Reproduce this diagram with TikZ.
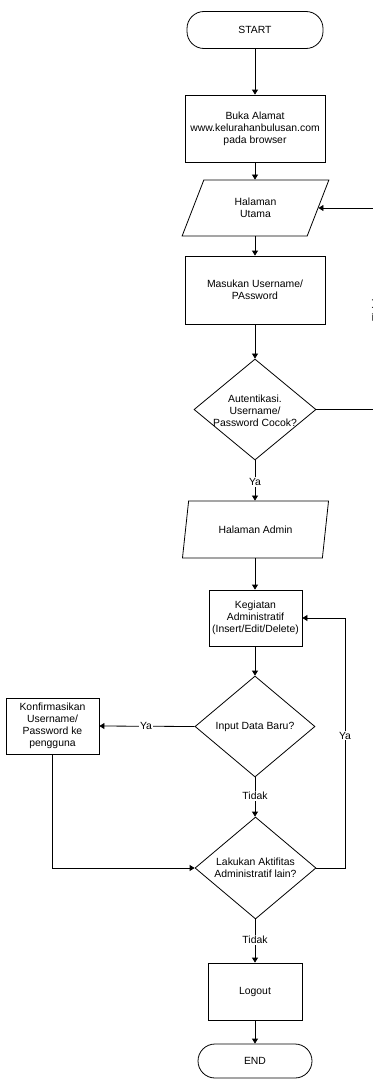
\documentclass[tikz,border=0pt]{standalone}
\usepackage{fontspec}
\setmainfont{Liberation Sans}
\usetikzlibrary{shapes.geometric,arrows.meta}
\begin{document}
\begin{tikzpicture}[x=1pt,y=-1pt,
  every node/.style={font=\fontsize{10.4}{12}\selectfont, align=center},
  box/.style={draw, rectangle, inner sep=0pt, line width=0.8pt},
  term/.style={draw, rectangle, rounded corners=17pt, inner sep=0pt, line width=0.8pt},
  io/.style={draw, trapezium, trapezium left angle=66, trapezium right angle=114,
    trapezium stretches=true, inner sep=0pt, minimum width=147pt, minimum height=56pt, line width=0.8pt},
  dec/.style={draw, diamond, inner sep=0pt, line width=0.8pt},
  flow/.style={line width=0.8pt, -{Triangle[length=5pt,width=6pt]}},
  plain/.style={line width=0.8pt},
  lbl/.style={fill=white, inner sep=1pt}
]
\useasboundingbox (0,0) rectangle (372,1081);

\node[term, minimum width=136pt, minimum height=37pt] (start) at (255,30) {START};
\node[box, minimum width=140pt, minimum height=67pt] (buka) at (255,128.5) {Buka Alamat\\www.kelurahanbulusan.com\\pada browser};
\node[io] (hu) at (255.5,208) {Halaman\\Utama};
\node[box, minimum width=140pt, minimum height=68pt] (masuk) at (255,290) {Masukan Username/\\PAssword};
\node[dec, minimum width=122pt, minimum height=101pt] (auth) at (255,409.5) {};
\node (authT) at (255,411) {Autentikasi.\\Username/\\Password Cocok?};
\node[io, minimum height=57pt] (admin) at (255.5,529.5) {Halaman Admin};
\node[box, minimum width=93pt, minimum height=56pt] (keg) at (255.5,618) {Kegiatan\\Administratif\\(Insert/Edit/Delete)};
\node[dec, minimum width=120pt, minimum height=101pt] (inp) at (255,726.5) {};
\node (inpT) at (255,726.5) {Input Data Baru?};
\node[box, minimum width=93pt, minimum height=56pt] (konf) at (52.5,726) {Konfirmasikan\\Username/\\Password ke\\pengguna};
\node[dec, minimum width=121pt, minimum height=102pt] (lak) at (255.5,868) {};
\node (lakT) at (255.5,868) {Lakukan Aktifitas\\Administratif lain?};
\node[box, minimum width=94pt, minimum height=57pt] (logout) at (255,991.5) {Logout};
\node[term, minimum width=114pt, minimum height=34pt] (end) at (255,1061) {END};

\coordinate (rx) at (376,0);
\coordinate (lx) at (345,0);

\draw[flow] (start) -- (buka);
\draw[flow] (buka.south) -- (buka.south |- hu.north);
\draw[flow] (buka.south |- hu.south) -- (masuk.north);
\draw[flow] (masuk) -- (auth);
\draw[flow] (auth.south) -- node[lbl, pos=0.54] {Ya} (auth.south |- admin.north);
\draw[flow] (auth.south |- admin.south) -- (auth.south |- keg.north);
\draw[flow] (auth.south |- keg.south) -- (inp.north);
\draw[flow] (auth.east) -- (rx |- auth.east) -- node[lbl, rotate=90, midway] {Tidak} (rx |- hu.east) -- (hu.east);
\draw[flow] (inp.west) -- node[lbl, pos=0.51] {Ya} (konf.east);
\draw[flow] (inp.south) -- node[lbl, pos=0.48] {Tidak} (inp.south |- lak.north);
\draw[flow] (konf.south) -- (konf.south |- lak.west) -- (lak.west);
\draw[flow] (lak.east) -- (lx |- lak.east) -- node[lbl, pos=0.53] {Ya} (lx |- keg.east) -- (keg.east);
\draw[flow] (inp.south |- lak.south) -- node[lbl, pos=0.48] {Tidak} (inp.south |- logout.north);
\draw[flow] (inp.south |- logout.south) -- (end.north);
\end{tikzpicture}
\end{document}
